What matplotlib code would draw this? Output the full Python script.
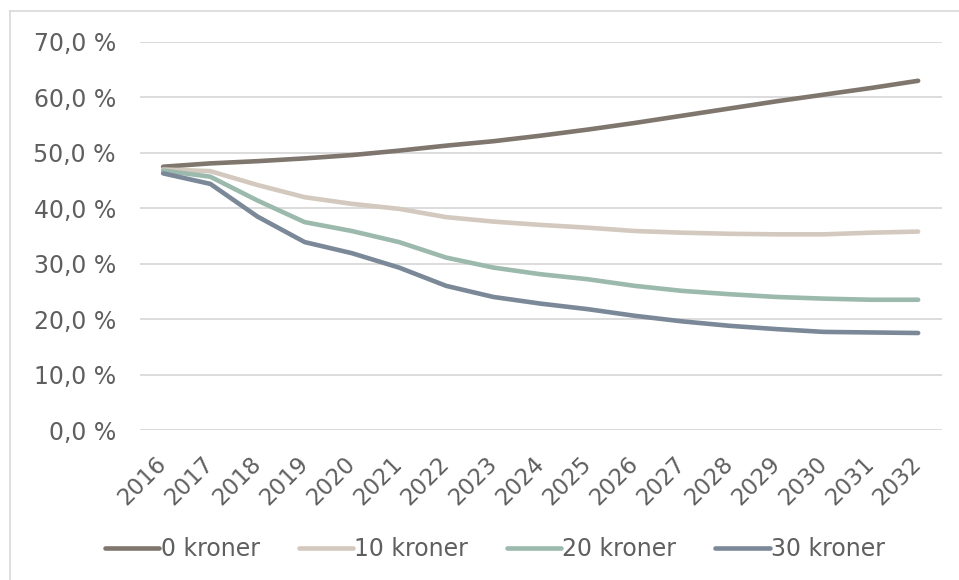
import matplotlib
matplotlib.use("Agg")
import matplotlib.pyplot as plt
from matplotlib.lines import Line2D
from matplotlib.ticker import FuncFormatter

years = list(range(2016, 2033))

share_0kr = [47.5, 48.1, 48.5, 49.0, 49.6, 50.4, 51.3, 52.1, 53.1, 54.2,
             55.4, 56.7, 58.0, 59.3, 60.5, 61.7, 63.0]
share_10kr = [47.0, 46.7, 44.2, 42.0, 40.8, 39.9, 38.4, 37.6, 37.0, 36.5,
              35.9, 35.6, 35.4, 35.3, 35.3, 35.6, 35.8]
share_20kr = [46.8, 45.7, 41.4, 37.5, 35.9, 33.9, 31.1, 29.3, 28.1, 27.2,
              26.0, 25.1, 24.5, 24.0, 23.7, 23.5, 23.5]
share_30kr = [46.3, 44.4, 38.5, 33.9, 31.9, 29.3, 26.0, 24.0, 22.8, 21.8,
              20.6, 19.6, 18.8, 18.2, 17.7, 17.6, 17.5]

series = [
    ("0 kroner", share_0kr, "#7f766d"),
    ("10 kroner", share_10kr, "#d3c9be"),
    ("20 kroner", share_20kr, "#9bb9ac"),
    ("30 kroner", share_30kr, "#7a8898"),
]

text_col = "#5f5f5f"
plt.rcParams["font.family"] = "DejaVu Sans"
plt.rcParams["font.size"] = 17

fig = plt.figure(figsize=(9.59, 5.8), dpi=100)
ax = fig.add_axes([0.1455, 0.2586, 0.8365, 0.669])

handles = []
for name, vals, col in series:
    ln, = ax.plot(years, vals, color=col, lw=3.3, solid_capstyle="round",
                  solid_joinstyle="round", label=name)
    handles.append(ln)

ax.set_xlim(2015.5, 2032.5)
ax.set_ylim(0, 70)
ax.set_yticks(range(0, 71, 10))
ax.yaxis.set_major_formatter(FuncFormatter(lambda v, p: f"{v:.1f} %".replace(".", ",")))
ax.set_xticks(years)
ax.set_xticklabels([str(y) for y in years], rotation=45, ha="right",
                   va="center", rotation_mode="anchor", fontsize=16.5)

ax.grid(axis="y", color="#dcdcdc", lw=1.4)
ax.set_axisbelow(True)
for s in ax.spines.values():
    s.set_visible(False)
ax.tick_params(axis="both", length=0, colors=text_col)
ax.tick_params(axis="y", pad=17, labelsize=17)
ax.tick_params(axis="x", pad=22)

leg = fig.legend(handles=handles, loc="center", bbox_to_anchor=(495 / 959, 1 - 549 / 580),
                 ncol=4, frameon=False, handlelength=2.3, handletextpad=0.05,
                 columnspacing=1.65, fontsize=17)
for t in leg.get_texts():
    t.set_color(text_col)

# outer chart border (left and top edges visible)
fig.add_artist(Line2D([10 / 959, 10 / 959], [0, 1 - 11 / 580], color="#d9d9d9", lw=1.2))
fig.add_artist(Line2D([10 / 959, 1], [1 - 11 / 580, 1 - 11 / 580], color="#d9d9d9", lw=1.2))

fig.savefig("out.png", dpi=100)
